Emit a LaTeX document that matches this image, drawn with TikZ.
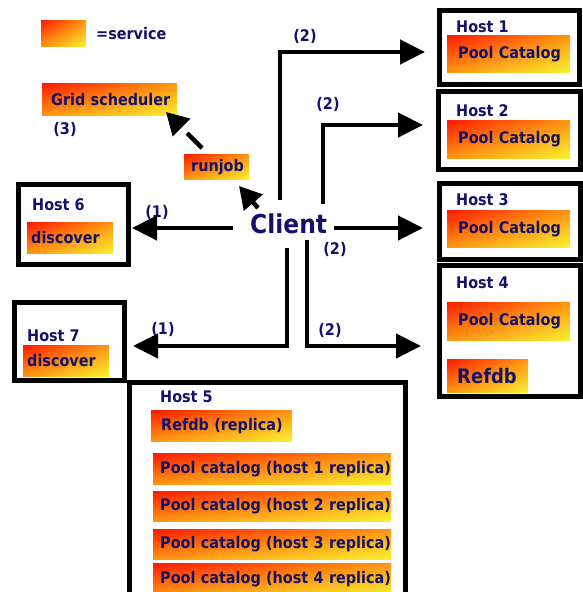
\documentclass[tikz,border=0pt]{standalone}
\usepackage{fontspec}
\setmainfont{DejaVu Sans}[FakeStretch=0.9]
\usetikzlibrary{arrows.meta,shadings}
\definecolor{navy}{RGB}{18,18,105}
\definecolor{svcA}{RGB}{255,25,0}
\definecolor{svcB}{RGB}{255,150,18}
\definecolor{svcC}{RGB}{247,242,48}
\begin{document}
\begin{tikzpicture}[x=1pt,y=-1pt,
  every node/.style={text=navy, font=\fontsize{16}{18}\selectfont\bfseries},
  hostbox/.style={draw=black, line width=4.5pt, fill=white, inner sep=0},
  svc/.style={shade, upper left=svcA, upper right=svcB, lower left=svcB, lower right=svcC,
    anchor=north west, inner ysep=0, align=left},
  lbl/.style={anchor=center, inner sep=0},
  hostlbl/.style={anchor=base west, inner sep=0},
  arr/.style={line width=4.5pt, line join=miter, -{Triangle[length=25pt,width=24pt]}},
]
\clip (0,0) rectangle (583,592);
\fill[white] (0,0) rectangle (583,592);

% host boxes
\node[hostbox, minimum width=140pt, minimum height=74pt] (h1) at (509.5,47.5) {};
\node[hostbox, minimum width=142pt, minimum height=78pt] (h2) at (509.5,130.5) {};
\node[hostbox, minimum width=141pt, minimum height=76pt] (h3) at (510,221.5) {};
\node[hostbox, minimum width=141pt, minimum height=131pt] (h4) at (510,331) {};
\node[hostbox, minimum width=110pt, minimum height=78pt] (h7) at (69.5,341.5) {};
\node[hostbox, minimum width=276pt, minimum height=217.5pt] (h5) at (267.5,491.25) {};
\node[hostbox, minimum width=110pt, minimum height=80pt] (h6) at (73.5,224.5) {};

% host labels
\node[hostlbl] (l1) at (456,32) {Host 1};
\node[hostlbl] (l2) at (456,116) {Host 2};
\node[hostlbl] (l3) at (456,205) {Host 3};
\node[hostlbl] (l4) at (456,288) {Host 4};
\node[hostlbl] (l5) at (160,402) {Host 5};
\node[hostlbl] (l6) at (32,210) {Host 6};
\node[hostlbl] (l7) at (27,341) {Host 7};

% services
\node[svc, inner sep=0, minimum width=45pt, minimum height=26pt] (legend) at (41,20) {};
\node[anchor=west, inner sep=0] (legtxt) at (96,34) {=service};
\node[svc, inner xsep=9pt, text width=117pt, minimum height=32pt] (grid) at (42,83) {\mbox{Grid scheduler}};
\node[svc, inner xsep=7pt, text width=51pt, minimum height=25pt] (runjob) at (184,154) {\mbox{runjob}};
\node[svc, inner xsep=4pt, text width=78pt, minimum height=31pt] (disc6) at (27,222) {\mbox{discover}};
\node[svc, inner xsep=4pt, text width=78pt, minimum height=31pt] (disc7) at (23,345) {\mbox{discover}};
\node[svc, inner xsep=11pt, text width=101pt, minimum height=37pt] (pc1) at (447,35) {\mbox{Pool Catalog}};
\node[svc, inner xsep=11pt, text width=101pt, minimum height=38pt] (pc2) at (447,120) {\mbox{Pool Catalog}};
\node[svc, inner xsep=11pt, text width=101pt, minimum height=37pt] (pc3) at (447,210) {\mbox{Pool Catalog}};
\node[svc, inner xsep=11pt, text width=101pt, minimum height=38pt] (pc4) at (447,302) {\mbox{Pool Catalog}};
\node[svc, inner xsep=10pt, text width=61pt, minimum height=33pt, font=\fontsize{20}{22}\selectfont\bfseries] (refdb) at (447,359) {\mbox{Refdb}};
\node[svc, inner xsep=10pt, text width=121pt, minimum height=31pt] (refrep) at (151,410) {\mbox{Refdb (replica)}};
\node[svc, inner xsep=7pt, text width=224pt, minimum height=31pt] (rep1) at (153,453) {\mbox{Pool catalog (host 1 replica)}};
\node[svc, inner xsep=7pt, text width=224pt, minimum height=30pt] (rep2) at (153,491) {\mbox{Pool catalog (host 2 replica)}};
\node[svc, inner xsep=7pt, text width=224pt, minimum height=30pt] (rep3) at (153,529) {\mbox{Pool catalog (host 3 replica)}};
\node[svc, inner xsep=7pt, text width=224pt, minimum height=32pt] (rep4) at (153,563) {\mbox{Pool catalog (host 4 replica)}};

% client
\node[hostlbl, font=\fontsize{26}{30}\selectfont\bfseries] (client) at (250,233) {Client};

% step labels
\node[lbl] (n2a) at (305,36) {(2)};
\node[lbl] (n2b) at (328,104) {(2)};
\node[lbl] (n2c) at (335,249) {(2)};
\node[lbl] (n2d) at (330,330) {(2)};
\node[lbl] (n1a) at (157,212) {(1)};
\node[lbl] (n1b) at (163,329) {(1)};
\node[lbl] (n3) at (65,129) {(3)};

% connector endpoints
\coordinate (s1) at (280,200); \coordinate (t1) at (425,52);
\coordinate (s2) at (323,204); \coordinate (t2) at (423,125);
\coordinate (s3) at (334,228); \coordinate (t3) at (423,228);
\coordinate (s6) at (233,228); \coordinate (t6) at (132,228);
\coordinate (s7) at (287,248); \coordinate (t7) at (133,346);
\coordinate (s4) at (307,240); \coordinate (t4) at (421,346);
\coordinate (sr) at (258,208); \coordinate (tr) at (239,186);
\coordinate (sg) at (202,148); \coordinate (tg) at (166,112);

\draw[arr] (s1) |- (t1);
\draw[arr] (s2) |- (t2);
\draw[arr] (s3) -- (t3);
\draw[arr] (s6) -- (t6);
\draw[arr] (s7) |- (t7);
\draw[arr] (s4) |- (t4);
\draw[line width=4.5pt, -{Triangle[length=22pt,width=24pt]}] (sr) -- (tr);
\draw[line width=4.5pt, dash pattern=on 21pt off 10pt, -{Triangle[length=22pt,width=24pt]}] (sg) -- (tg);
\end{tikzpicture}
\end{document}
